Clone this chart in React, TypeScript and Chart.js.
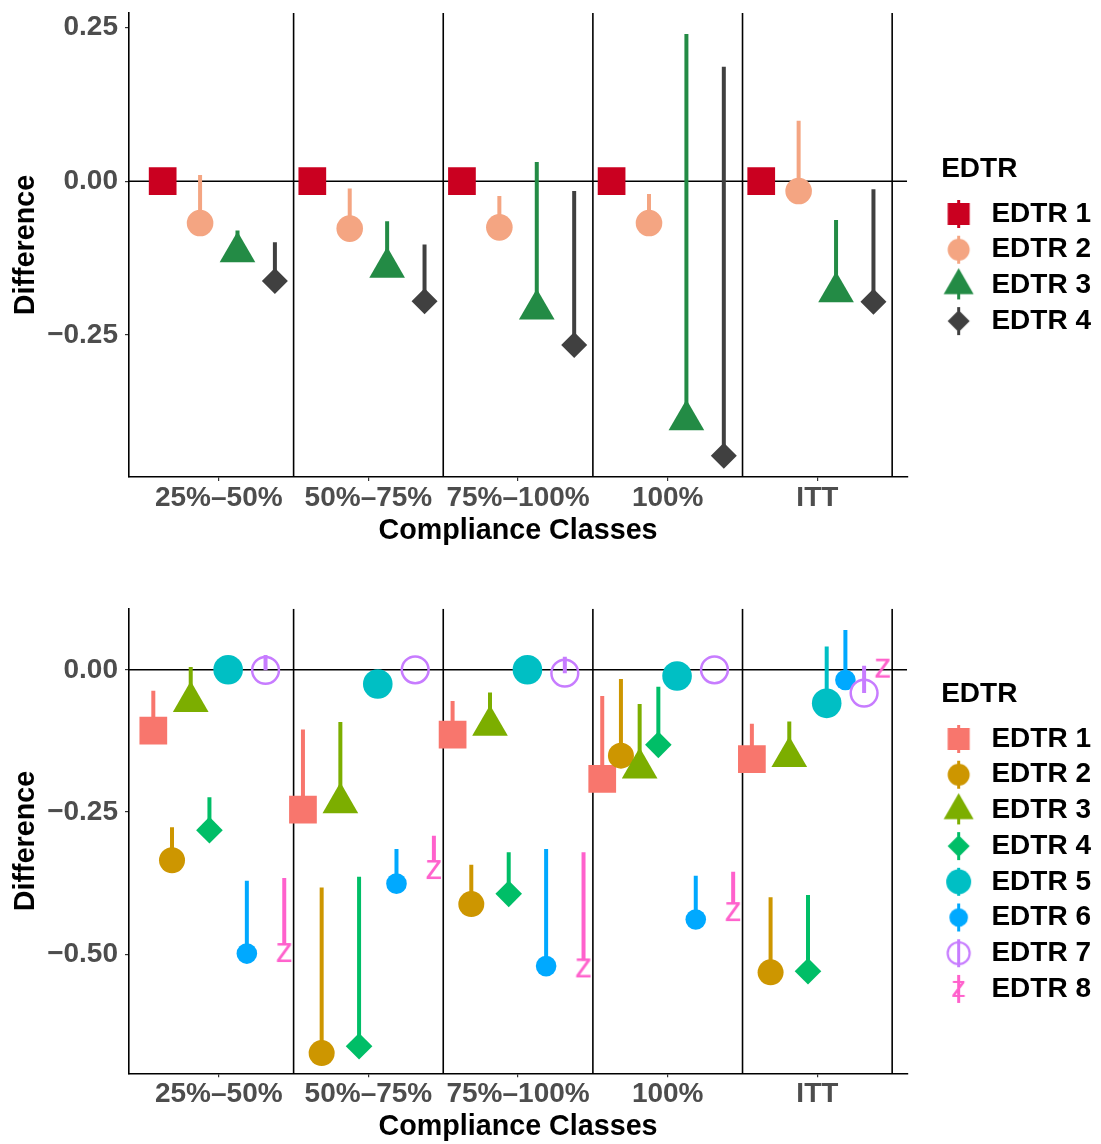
import React, { useEffect, useRef } from "react";
import { Chart, registerables } from "chart.js";

Chart.register(...registerables);

const FONT = "'Liberation Sans', Arial, Helvetica, sans-serif";

// ---------------- data ----------------
const categories = ["25%–50%", "50%–75%", "75%–100%", "100%", "ITT"];
const separatorPositions = [1.5, 2.5, 3.5, 4.5, 5.5];
const topYTicks = [-0.25, 0, 0.25];
const bottomYTicks = [-0.5, -0.25, 0];
const legendTitle = "EDTR";
const xAxisTitle = "Compliance Classes";
const yAxisTitle = "Difference";

// top panel (estimate / upper bound)
const topNames = ["EDTR 1", "EDTR 2", "EDTR 3", "EDTR 4"];
const topEdtr1 = [0, 0, 0, 0, 0];
const topEdtr1Upper = [0, 0, 0, 0, 0];
const topEdtr2 = [-0.068, -0.077, -0.075, -0.068, -0.016];
const topEdtr2Upper = [0.01, -0.012, -0.024, -0.021, 0.098];
const topEdtr3 = [-0.115, -0.14, -0.208, -0.388, -0.18];
const topEdtr3Upper = [-0.08, -0.065, 0.031, 0.239, -0.063];
const topEdtr4 = [-0.162, -0.195, -0.266, -0.446, -0.196];
const topEdtr4Upper = [-0.099, -0.103, -0.016, 0.186, -0.013];

// bottom panel (estimate / upper bound)
const bottomNames = ["EDTR 1", "EDTR 2", "EDTR 3", "EDTR 4", "EDTR 5", "EDTR 6", "EDTR 7", "EDTR 8"];
const botEdtr1 = [-0.107, -0.246, -0.114, -0.192, -0.157];
const botEdtr1Upper = [-0.037, -0.105, -0.055, -0.046, -0.095];
const botEdtr2 = [-0.335, -0.674, -0.412, -0.151, -0.532];
const botEdtr2Upper = [-0.277, -0.383, -0.343, -0.016, -0.4];
const botEdtr3 = [-0.056, -0.234, -0.098, -0.173, -0.153];
const botEdtr3Upper = [0.005, -0.092, -0.04, -0.06, -0.091];
const botEdtr4 = [-0.282, -0.662, -0.394, -0.132, -0.53];
const botEdtr4Upper = [-0.224, -0.364, -0.321, -0.03, -0.396];
const botEdtr5 = [0.0, -0.025, 0.0, -0.011, -0.059];
const botEdtr5Upper = [0.0, -0.025, 0.0, -0.011, 0.041];
const botEdtr6 = [-0.499, -0.376, -0.521, -0.439, -0.018];
const botEdtr6Upper = [-0.371, -0.315, -0.315, -0.362, 0.07];
const botEdtr7 = [-0.001, 0.0, -0.006, 0.0, -0.041];
const botEdtr7Upper = [0.026, 0.0, 0.023, 0.0, 0.007];
const botEdtr8 = [-0.484, -0.338, -0.511, -0.412, 0.016];
const botEdtr8Upper = [-0.366, -0.292, -0.321, -0.355, 0.016];

// axis ranges
const xRange = [0.4, 5.6];
const topYRange = [-0.4805, 0.2732];
const bottomYRange = [-0.7095, 0.1074];

// ---------------- styles ----------------
type Shape = "rect" | "circle" | "triangle" | "rectRot" | "ring" | "z";
interface MarkStyle {
  shape: Shape;
  color: string;
  r: number;
  lr: number;
}

const topStyles: MarkStyle[] = [
  { shape: "rect", color: "#CA0020", r: 19.6, lr: 15.6 },
  { shape: "circle", color: "#F4A582", r: 13.3, lr: 11 },
  { shape: "triangle", color: "#238B45", r: 20.6, lr: 17.3 },
  { shape: "rectRot", color: "#404040", r: 13, lr: 11 },
];

const bottomStyles: MarkStyle[] = [
  { shape: "rect", color: "#F8766D", r: 19.6, lr: 15.6 },
  { shape: "circle", color: "#CD9600", r: 13, lr: 11 },
  { shape: "triangle", color: "#7CAE00", r: 20.6, lr: 17.3 },
  { shape: "rectRot", color: "#00BE67", r: 13.3, lr: 11 },
  { shape: "circle", color: "#00BFC4", r: 14.8, lr: 12.5 },
  { shape: "circle", color: "#00A9FF", r: 10.3, lr: 9.3 },
  { shape: "ring", color: "#C77CFF", r: 13.4, lr: 11 },
  { shape: "z", color: "#FF61CC", r: 35, lr: 30 },
];

function paintMarker(ctx: CanvasRenderingContext2D, st: MarkStyle, r: number, cx: number, cy: number) {
  ctx.save();
  ctx.fillStyle = st.color;
  ctx.strokeStyle = st.color;
  ctx.beginPath();
  if (st.shape === "rect") {
    const s = r * Math.SQRT1_2;
    ctx.rect(cx - s, cy - s, 2 * s, 2 * s);
    ctx.fill();
  } else if (st.shape === "circle") {
    ctx.arc(cx, cy, r, 0, Math.PI * 2);
    ctx.fill();
  } else if (st.shape === "ring") {
    ctx.lineWidth = 2.2;
    ctx.arc(cx, cy, r, 0, Math.PI * 2);
    ctx.stroke();
  } else if (st.shape === "triangle") {
    const h = r * Math.sin((2 * Math.PI) / 3);
    ctx.moveTo(cx, cy - r);
    ctx.lineTo(cx + h, cy + r / 2);
    ctx.lineTo(cx - h, cy + r / 2);
    ctx.closePath();
    ctx.fill();
  } else if (st.shape === "rectRot") {
    ctx.moveTo(cx - r, cy);
    ctx.lineTo(cx, cy - r);
    ctx.lineTo(cx + r, cy);
    ctx.lineTo(cx, cy + r);
    ctx.closePath();
    ctx.fill();
  } else if (st.shape === "z") {
    ctx.font = `${r}px ${FONT}`;
    ctx.textAlign = "center";
    ctx.textBaseline = "alphabetic";
    ctx.fillText("z", cx, cy + (0.519 * r) / 2);
  }
  ctx.restore();
}

function makeLegendGlyph(st: MarkStyle): HTMLCanvasElement {
  const c = document.createElement("canvas");
  c.width = 40;
  c.height = 40;
  const ctx = c.getContext("2d")!;
  const cx = 15.5;
  const cy = 20;
  ctx.strokeStyle = st.color;
  ctx.lineWidth = 3;
  ctx.beginPath();
  ctx.moveTo(cx, cy - 14);
  ctx.lineTo(cx, cy + 14);
  ctx.stroke();
  paintMarker(ctx, st, st.lr, cx, cy);
  return c;
}

function makeZPoint(st: MarkStyle): HTMLCanvasElement {
  const c = document.createElement("canvas");
  c.width = 26;
  c.height = 50;
  const ctx = c.getContext("2d")!;
  ctx.fillStyle = st.color;
  ctx.font = `${st.r}px ${FONT}`;
  ctx.textAlign = "center";
  ctx.textBaseline = "alphabetic";
  ctx.fillText("z", 13, 24 + 0.519 * st.r);
  return c;
}

function fmtTick(v: number): string {
  const s = Math.abs(v).toFixed(2);
  return v < 0 ? "\u2212" + s : s;
}

interface PanelSpec {
  names: string[];
  est: number[][];
  upper: number[][];
  styles: MarkStyle[];
  yRange: number[];
  yTicks: number[];
  padTop: number;
  xAxisHeight: number;
  legendPadTop: number;
}

function buildConfig(p: PanelSpec): any {
  const n = p.names.length;
  const datasets: any[] = [];
  // reference lines
  datasets.push({
    data: [
      { x: xRange[0], y: 0 },
      { x: xRange[1], y: 0 },
    ],
    showLine: true,
    borderColor: "#000000",
    borderWidth: 1.6,
    pointRadius: 0,
    order: 100,
  });
  const sepData: any[] = [];
  separatorPositions.forEach((s) => {
    sepData.push({ x: s, y: p.yRange[0] }, { x: s, y: p.yRange[1] }, { x: s, y: null });
  });
  datasets.push({
    data: sepData,
    showLine: true,
    spanGaps: false,
    borderColor: "#000000",
    borderWidth: 1.6,
    pointRadius: 0,
    order: 100,
  });
  p.names.forEach((name, j) => {
    const st = p.styles[j];
    const off = (j - (n - 1) / 2) / n;
    const seg: any[] = [];
    p.est[j].forEach((v, i) => {
      const x = i + 1 + off;
      seg.push({ x, y: v }, { x, y: p.upper[j][i] }, { x, y: null });
    });
    datasets.push({
      label: name + " interval",
      data: seg,
      showLine: true,
      spanGaps: false,
      borderColor: st.color,
      borderWidth: 4,
      borderCapStyle: "butt",
      pointRadius: 0,
      order: 50 - j,
    });
    let pointStyle: any = st.shape === "ring" ? "circle" : st.shape;
    let radius = st.r;
    if (st.shape === "z") {
      pointStyle = makeZPoint(st);
      radius = 10;
    }
    datasets.push({
      label: name,
      data: p.est[j].map((v, i) => ({ x: i + 1 + off, y: v })),
      pointStyle,
      pointRadius: radius,
      backgroundColor: st.shape === "ring" ? "rgba(0,0,0,0)" : st.color,
      borderColor: st.color,
      borderWidth: st.shape === "ring" ? 2.5 : 0,
      order: 20 - j,
    });
  });

  const legendGlyphs = p.styles.map((s) => makeLegendGlyph(s));
  const tickFont = { family: FONT, size: 28, weight: "bold" as const };
  const titleFont = { family: FONT, size: 28.7, weight: "bold" as const };

  return {
    type: "scatter",
    data: { datasets },
    options: {
      animation: false,
      responsive: false,
      events: [],
      layout: { autoPadding: false, padding: { top: p.padTop, left: 0, right: 0, bottom: 0 } },
      plugins: {
        tooltip: { enabled: false },
        legend: {
          display: true,
          position: "right",
          align: "start",
          maxWidth: 160,
          title: {
            display: true,
            text: legendTitle,
            position: "start",
            color: "#000000",
            font: tickFont,
            padding: { top: p.legendPadTop, bottom: 3.7 },
          },
          labels: {
            usePointStyle: true,
            pointStyleWidth: 28.6,
            padding: 7.7,
            color: "#000000",
            font: tickFont,
            generateLabels: () =>
              p.names.map((nm, j) => ({
                text: nm,
                pointStyle: legendGlyphs[j],
                fillStyle: p.styles[j].color,
                strokeStyle: p.styles[j].color,
                lineWidth: 0,
                hidden: false,
                datasetIndex: j,
              })),
          },
        },
      },
      scales: {
        x: {
          type: "linear",
          position: "bottom",
          min: xRange[0],
          max: xRange[1],
          afterBuildTicks: (s: any) => {
            s.ticks = categories.map((_, i) => ({ value: i + 1 }));
          },
          afterFit: (s: any) => {
            s.height = p.xAxisHeight;
            s.paddingLeft = 0;
            s.paddingRight = 0;
            s.paddingTop = 0;
            s.paddingBottom = 0;
          },
          ticks: {
            autoSkip: false,
            maxRotation: 0,
            minRotation: 0,
            padding: 0,
            color: "#4D4D4D",
            font: tickFont,
            callback: (v: any) => categories[Math.round(Number(v)) - 1] ?? "",
          },
          grid: { display: true, drawOnChartArea: false, drawTicks: true, tickLength: 4, color: "#333333", lineWidth: 1.2 },
          border: { display: true, color: "#000000", width: 1.6 },
          title: { display: true, text: xAxisTitle, color: "#000000", font: titleFont, padding: { top: 0, bottom: 0 } },
        },
        y: {
          type: "linear",
          position: "left",
          min: p.yRange[0],
          max: p.yRange[1],
          afterBuildTicks: (s: any) => {
            s.ticks = p.yTicks.map((v) => ({ value: v }));
          },
          afterFit: (s: any) => {
            s.width = 129;
            s.paddingTop = 0;
            s.paddingBottom = 0;
            s.paddingLeft = 0;
            s.paddingRight = 0;
          },
          ticks: {
            padding: 7,
            color: "#4D4D4D",
            font: tickFont,
            callback: (v: any) => fmtTick(Number(v)),
          },
          grid: { display: true, drawOnChartArea: false, drawTicks: true, tickLength: 4, color: "#333333", lineWidth: 1.2 },
          border: { display: true, color: "#000000", width: 1.6 },
          title: { display: true, text: yAxisTitle, color: "#000000", font: titleFont, padding: { top: 9, bottom: 0 } },
        },
        yGap: {
          type: "linear",
          position: "right",
          display: true,
          grid: { display: false },
          ticks: { display: false },
          border: { display: false },
          afterFit: (s: any) => {
            s.width = 34;
            s.paddingTop = 0;
            s.paddingBottom = 0;
          },
        },
      },
    },
  };
}

function PanelChart({ spec, height }: { spec: PanelSpec; height: number }) {
  const ref = useRef<HTMLCanvasElement>(null);
  useEffect(() => {
    const chart = new Chart(ref.current as HTMLCanvasElement, buildConfig(spec));
    return () => chart.destroy();
  }, []);
  return <canvas ref={ref} width={1101} height={height} style={{ display: "block", width: 1101, height }} />;
}

const topSpec: PanelSpec = {
  names: topNames,
  est: [topEdtr1, topEdtr2, topEdtr3, topEdtr4],
  upper: [topEdtr1Upper, topEdtr2Upper, topEdtr3Upper, topEdtr4Upper],
  styles: topStyles,
  yRange: topYRange,
  yTicks: topYTicks,
  padTop: 13,
  xAxisHeight: 71,
  legendPadTop: 142,
};

const bottomSpec: PanelSpec = {
  names: bottomNames,
  est: [botEdtr1, botEdtr2, botEdtr3, botEdtr4, botEdtr5, botEdtr6, botEdtr7, botEdtr8],
  upper: [
    botEdtr1Upper,
    botEdtr2Upper,
    botEdtr3Upper,
    botEdtr4Upper,
    botEdtr5Upper,
    botEdtr6Upper,
    botEdtr7Upper,
    botEdtr8Upper,
  ],
  styles: bottomStyles,
  yRange: bottomYRange,
  yTicks: bottomYTicks,
  padTop: 48.7,
  xAxisHeight: 70.7,
  legendPadTop: 71.3,
};

export default function App() {
  return (
    <div style={{ position: "absolute", left: 0, top: 0, width: 1101, height: 1144, background: "#ffffff" }}>
      <div style={{ position: "absolute", left: 0, top: 0 }}>
        <PanelChart spec={topSpec} height={548} />
      </div>
      <div style={{ position: "absolute", left: 0, top: 560 }}>
        <PanelChart spec={bottomSpec} height={584} />
      </div>
    </div>
  );
}
